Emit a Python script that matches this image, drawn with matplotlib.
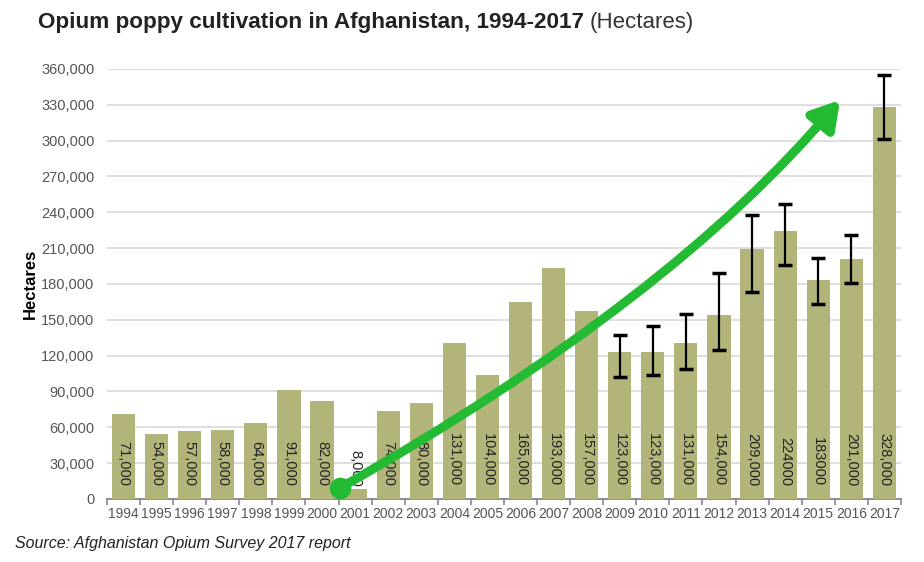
import numpy as np
import matplotlib
matplotlib.use("Agg")
import matplotlib.pyplot as plt

###############################################################################
# Data

years = list(range(1994, 2018))
hectares = [71000, 54000, 57000, 58000, 64000, 91000, 82000, 8000, 74000, 80000,
            131000, 104000, 165000, 193000, 157000, 123000, 123000, 131000,
            154000, 209000, 224000, 183000, 201000, 328000]
bar_labels = ["71,000", "54,000", "57,000", "58,000", "64,000", "91,000",
              "82,000", "8,000", "74,000", "80,000", "131,000", "104,000",
              "165,000", "193,000", "157,000", "123,000", "123,000", "131,000",
              "154,000", "209,000", "224000", "183000", "201,000", "328,000"]

# estimate ranges (only published from 2009)
range_years = [2009, 2010, 2011, 2012, 2013, 2014, 2015, 2016, 2017]
range_low = [102000, 104000, 109000, 125000, 173000, 196000, 163000, 181000, 301000]
range_high = [137000, 145000, 155000, 189000, 238000, 247000, 202000, 221000, 355000]

yticks = np.arange(0, 360001, 30000)

###############################################################################
# Plot

plt.rcParams['font.family'] = ['Liberation Sans', 'DejaVu Sans']

fig = plt.figure(figsize=(9.24, 5.62), dpi=100)
ax = fig.add_axes([0.1158, 0.1121, 0.8592, 0.7652])

x = np.arange(len(years))
ax.bar(x, hectares, width=0.7, color="#b3b47a", zorder=3)

# error bars
ex = [years.index(y) for y in range_years]
ev = [hectares[i] for i in ex]
err = [np.array(ev) - np.array(range_low), np.array(range_high) - np.array(ev)]
ax.errorbar(ex, ev, yerr=err, fmt="none", ecolor="black", elinewidth=1.6,
            capsize=5, capthick=2.5, zorder=4)

# rotated value labels inside the bars
for xi, lab in zip(x, bar_labels):
    ax.annotate(lab, (xi, 0), xytext=(0, 9), textcoords="offset points",
                rotation=-90, ha="center", va="bottom", fontsize=10.5,
                color="#222222", zorder=5)

ax.set_xlim(-0.5, len(years) - 0.5)
ax.set_ylim(0, 360000)
ax.set_yticks(yticks)
ax.set_yticklabels([f"{v:,}" for v in yticks], fontsize=10.5, color="#555555")
ax.tick_params(axis="y", length=0, pad=9)
ax.yaxis.grid(True, color="#d9d9d9", linewidth=1.2, zorder=0)
ax.set_axisbelow(True)

ax.set_xticks(x)
ax.set_xticklabels([str(y) for y in years], fontsize=10, color="#555555")
ax.set_xticks(np.arange(-0.5, len(years)), minor=True)
ax.tick_params(axis="x", which="major", length=0, pad=6)
ax.tick_params(axis="x", which="minor", length=4, width=1.2, color="#888888")

for s in ["left", "right", "top"]:
    ax.spines[s].set_visible(False)
ax.spines["bottom"].set_color("#888888")
ax.spines["bottom"].set_linewidth(1.3)

ax.set_ylabel("Hectares", fontsize=12, fontweight="bold", labelpad=8)
ax.yaxis.set_label_coords(-0.087, 0.5)

# green trend arrow from the 2001 low to the 2017 peak
green = "#22bb33"
start = (6.54, 9200)
end = (21.66, 334000)
ax.annotate("", xy=end, xytext=start,
            arrowprops=dict(arrowstyle="-|>,head_length=0.8,head_width=0.48",
                            mutation_scale=20, color=green, lw=6.5,
                            shrinkA=0, shrinkB=0,
                            connectionstyle="angle3,angleA=29.5,angleB=50"),
            zorder=6)
ax.plot(*start, "o", color=green, markersize=14.5, zorder=7, clip_on=False)

# title
fig.text(0.041, 0.96, "Opium poppy cultivation in Afghanistan, 1994-2017",
         fontsize=16.2, fontweight="bold", color="#222222", va="center")
fig.text(0.638, 0.96, "(Hectares)", fontsize=16, color="#333333", va="center")

fig.text(0.016, 0.033, "Source: Afghanistan Opium Survey 2017 report",
         fontsize=11.5, style="italic", color="#222222", va="center")

fig.savefig("out.png", dpi=100)
